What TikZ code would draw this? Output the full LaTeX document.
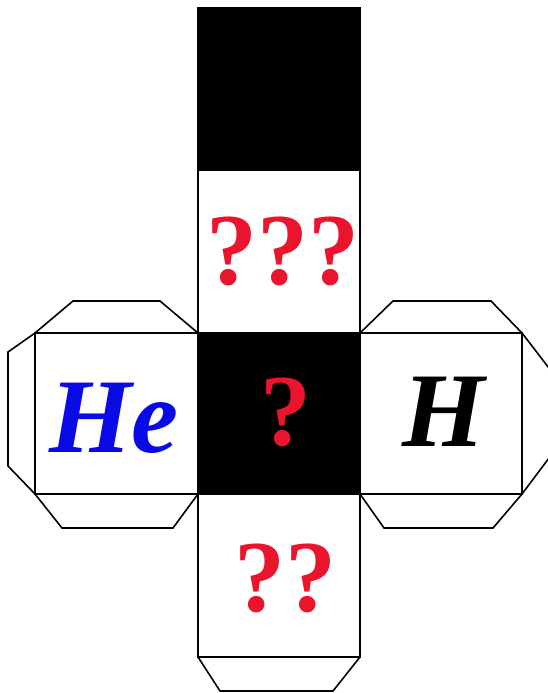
\documentclass[tikz,border=0pt]{standalone}
\usepackage{fontspec}
\setmainfont{Liberation Serif}
\definecolor{qred}{RGB}{235,20,45}
\definecolor{heblue}{RGB}{10,10,230}
\tikzset{
  edge/.style={draw=black, line width=1.7pt, line join=miter},
  face/.style={edge, fill=white},
  darkface/.style={edge, fill=black},
  tab/.style={draw=black, line width=1.6pt, line join=miter},
  qmark/.style={text=qred, font=\fontsize{102}{102}\selectfont\bfseries, inner sep=0pt},
  sym/.style={font=\fontsize{106}{106}\selectfont\bfseries\itshape, inner sep=0pt}
}
\begin{document}
\begin{tikzpicture}[x=1pt,y=-1pt]
\useasboundingbox (0,0) rectangle (548,693);
% tabs
\draw[tab] (35,333) -- (73,301) -- (160,301) -- (198,333);
\draw[tab] (35,333) -- (8,352) -- (8,466) -- (35,494);
\draw[tab] (35,494) -- (62,528) -- (173,528) -- (198,494);
\draw[tab] (360,333) -- (393,301) -- (491,301) -- (522,333);
\draw[tab] (522,333) -- (552,372) -- (552,454) -- (522,494);
\draw[tab] (360,494) -- (384,528) -- (493,528) -- (522,494);
\draw[tab] (198,657) -- (220,691) -- (333,691) -- (360,657);
% faces
\path[darkface] (198,8) rectangle (360,170) node[pos=0.5, inner sep=0pt] (top) {};
\path[face] (198,170) rectangle (360,333) node[pos=0.5, inner sep=0pt] (upper) {};
\path[darkface] (198,333) rectangle (360,494) node[pos=0.5, inner sep=0pt] (mid) {};
\path[face] (198,494) rectangle (360,657) node[pos=0.5, inner sep=0pt] (lower) {};
\path[face] (35,333) rectangle (198,494) node[pos=0.5, inner sep=0pt] (left) {};
\path[face] (360,333) rectangle (522,494) node[pos=0.5, inner sep=0pt] (right) {};
% labels
\node[qmark] (q3) at (283,251) {???};
\node[qmark] (q1) at (286,412) {?};
\node[qmark] (q2) at (285,578) {??};
\node[sym, text=heblue] (he) at (114,418) {He};
\node[sym, text=black] (h) at (444,412) {H};
\end{tikzpicture}
\end{document}
